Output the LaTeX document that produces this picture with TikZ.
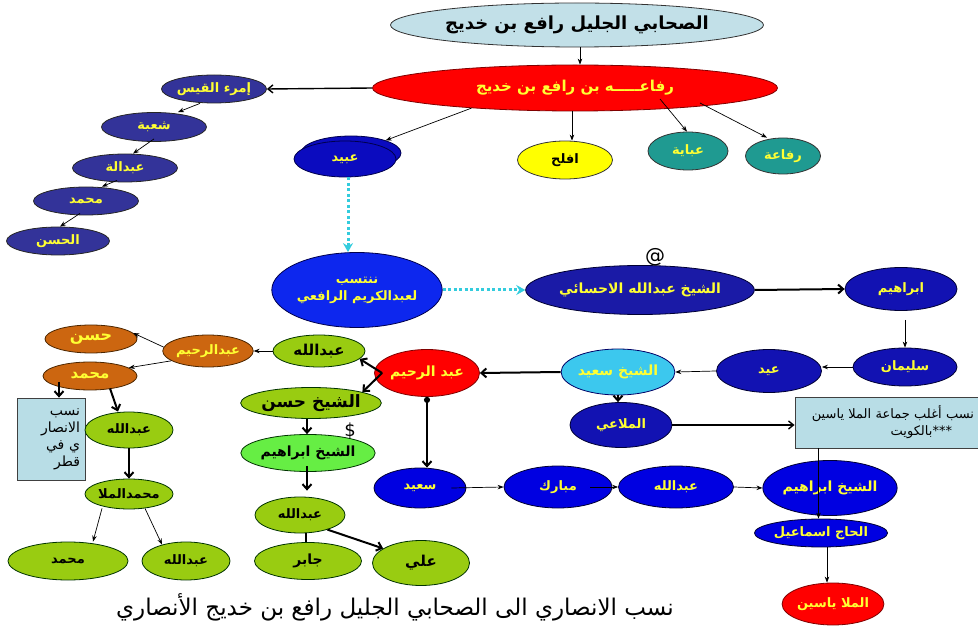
\documentclass[tikz,border=0pt]{standalone}
\usepackage{fontspec}
\usetikzlibrary{shapes.geometric,arrows.meta,calc}
\newfontfamily\arf[Script=Arabic]{DejaVu Sans}
\TeXXeTstate=1
\newcommand\AR[1]{\beginR #1\endR}
\definecolor{topc}{HTML}{C2E0E8}
\definecolor{redc}{HTML}{FF0000}
\definecolor{navyc}{HTML}{333399}
\definecolor{ubc}{HTML}{0B0BBF}
\definecolor{nanc}{HTML}{0D27EE}
\definecolor{ahc}{HTML}{1A1AA6}
\definecolor{dbc}{HTML}{1212B2}
\definecolor{bbc}{HTML}{0000E1}
\definecolor{tealc}{HTML}{1F9A91}
\definecolor{yelc}{HTML}{FFFF00}
\definecolor{txty}{HTML}{FFFF33}
\definecolor{cyanc}{HTML}{3CC8EE}
\definecolor{greenc}{HTML}{99CC11}
\definecolor{greenl}{HTML}{66EE44}
\definecolor{orc}{HTML}{CC6610}
\definecolor{boxc}{HTML}{B8DDE6}
\definecolor{dotc}{HTML}{33CCDD}
\tikzset{
  fs/.style={font=\arf\bfseries\fontsize{#1}{17}\selectfont},
  ov/.style n args={3}{ellipse, inner sep=0pt, line width=0.8pt, fill=#1, draw=#2, text=#3, fs=13},
  navyel/.style={ov={navyc}{black!85}{txty}},
  redel/.style={ov={redc}{red!50!black}{txty}},
  ubel/.style={ov={ubc}{blue!30!black}{txty}},
  nanel/.style={ov={nanc}{blue!30!black}{txty}},
  ahel/.style={ov={ahc}{blue!20!black}{txty}},
  dbel/.style={ov={dbc}{blue!20!black}{txty}},
  bbel/.style={ov={bbc}{blue!20!black}{txty}},
  tealel/.style={ov={tealc}{black!80}{txty}},
  yelel/.style={ov={yelc}{black!80}{black}},
  cyanel/.style={ov={cyanc}{blue!40!black}{txty}},
  grel/.style={ov={greenc}{green!20!black}{black}},
  glel/.style={ov={greenl}{green!20!black}{black}},
  orel/.style={ov={orc}{orange!30!black}{txty}},
  infobox/.style={rectangle, fill=boxc, draw=black!75, line width=0.8pt, inner sep=3pt, align=right, text=black, font=\arf\fontsize{13}{17}\selectfont},
  tarr/.style={-{Stealth[length=6pt,width=4.5pt]}, line width=0.7pt, black},
  karr/.style={-{Straight Barb[length=5pt,width=9pt]}, line width=2pt, black},
  marr/.style={-{Straight Barb[length=5pt,width=8pt]}, line width=1.4pt, black},
  dotarr/.style={-{Stealth[length=9pt,width=10pt,inset=3pt]}, line width=3pt, dotc, dash pattern=on 3pt off 2.5pt},
}
\begin{document}
\begin{tikzpicture}[x=1pt,y=-1pt]
\useasboundingbox (0,0) rectangle (978,628);
% top
\node[ov={topc}{black!80}{black}, fs=18, minimum width=290, minimum height=44] (top) at (577,25) {\AR{الصحابي الجليل رافع بن خديج}};
\node[redel, fs=15, minimum width=405, minimum height=46] (rf) at (575,88) {\AR{رفاعـــــه بن رافع بن خديج}};
% left navy chain
\node[navyel, minimum width=105, minimum height=28] (imru) at (214,89) {\AR{إمرء القيس}};
\node[navyel, minimum width=105, minimum height=29] (shuba) at (154,127) {\AR{شعبة}};
\node[navyel, minimum width=105, minimum height=28] (abdl) at (125,168) {\AR{عبدالة}};
\node[navyel, minimum width=105, minimum height=28] (muh1) at (86,201) {\AR{محمد}};
\node[navyel, minimum width=103, minimum height=28] (hasan1) at (58,241) {\AR{الحسن}};
% children of rf
\node[ubel, minimum width=100, minimum height=34] (ubaidb) at (351,153) {};
\node[ubel, minimum width=102, minimum height=36] (ubaid) at (345,159) {\AR{عبيد}};
\node[yelel, minimum width=95, minimum height=38] (aflah) at (565,160) {\AR{افلح}};
\node[tealel, minimum width=80, minimum height=38] (abaya) at (688,151) {\AR{عباية}};
\node[tealel, minimum width=75, minimum height=36] (rifaa) at (783,156) {\AR{رفاعة}};
% middle row
\node[nanel, align=center, minimum width=155, minimum height=75] (nant) at (357,290) {\AR{ننتسب}\\\AR{لعبدالكريم الرافعي}};
\node[ahel, fs=14, minimum width=170, minimum height=49] (ahsai) at (640,290) {\AR{الشيخ عبدالله الاحسائي}};
\node[font=\arf\fontsize{20}{20}\selectfont] (atsign) at (655,257) {@};
\node[dbel, minimum width=112, minimum height=43] (ibr) at (901,289) {\AR{ابراهيم}};
\node[dbel, minimum width=104, minimum height=38] (sul) at (905,367) {\AR{سليمان}};
\node[dbel, minimum width=105, minimum height=43] (eid) at (769,371) {\AR{عيد}};
\node[cyanel, fs=14, minimum width=108, minimum height=46] (ssaid) at (618,372) {\AR{الشيخ سعيد}};
\node[dbel, minimum width=102, minimum height=45] (mulai) at (621,425) {\AR{الملاعي}};
\node[infobox, minimum width=183, minimum height=51, text width=175] (kbox) at (886.5,422.5) {\AR{نسب أغلب جماعة الملا ياسين}\\\AR{بالكويت}***\hspace*{22pt}};
\node[redel, fs=14, minimum width=105, minimum height=47] (arahim) at (427,373) {\AR{عبد الرحيم}};
% green column
\node[grel, fs=15, minimum width=92, minimum height=32] (gabd) at (319,351) {\AR{عبدالله}};
\node[grel, fs=17, minimum width=112, minimum height=31] (shasan) at (311,403) {\AR{الشيخ حسن}};
\node[glel, fs=14, minimum width=107, minimum height=37] (shibr) at (308,453) {\AR{الشيخ ابراهيم}};
\node[font=\arf\fontsize{18}{18}\selectfont] (dollar) at (350,431) {\$};
\node[grel, minimum width=90, minimum height=36] (gabd2) at (300,515) {\AR{عبدالله}};
\node[grel, fs=14, minimum width=107, minimum height=37] (jabir) at (308,561) {\AR{جابر}};
\node[grel, fs=15, minimum width=97, minimum height=45] (ali) at (421,563) {\AR{علي}};
% orange
\node[orel, minimum width=90, minimum height=32] (orahim) at (208,351) {\AR{عبدالرحيم}};
\node[orel, fs=16, minimum width=92, minimum height=28] (ohasan) at (91,339) {\AR{حسن}};
\node[orel, fs=15, minimum width=94, minimum height=28] (omuh) at (90,376) {\AR{محمد}};
\node[infobox, font=\arf\fontsize{14}{17}\selectfont, minimum width=68, minimum height=82, text width=58] (qbox) at (51,439) {\AR{نسب}\\\AR{الانصار}\\\AR{ي في}\\\AR{قطر}};
\node[grel, minimum width=88, minimum height=36] (labd) at (129,430) {\AR{عبدالله}};
\node[grel, minimum width=88, minimum height=30] (mmulla) at (129,494) {\AR{محمدالملا}};
\node[grel, minimum width=120, minimum height=38] (bmuh) at (68,561) {\AR{محمد}};
\node[grel, minimum width=88, minimum height=38] (babd) at (186,561) {\AR{عبدالله}};
% bottom blue row
\node[bbel, minimum width=92, minimum height=40] (said) at (420,488) {\AR{سعيد}};
\node[bbel, minimum width=108, minimum height=42] (mubarak) at (558,487) {\AR{مبارك}};
\node[bbel, minimum width=115, minimum height=42] (babd2) at (676,487) {\AR{عبدالله}};
\node[bbel, fs=14, minimum width=110, minimum height=55] (sibr) at (830,488) {\AR{الشيخ ابراهيم}};
\node[bbel, minimum width=92, minimum height=28] (ismail) at (821,533) {\AR{الحاج اسماعيل}};
\node[redel, minimum width=95, minimum height=42] (yasin) at (833,604) {\AR{الملا ياسين}};
% title
\node[font=\arf\fontsize{23}{26}\selectfont] (title) at (395,607) {\AR{نسب الانصاري الى الصحابي الجليل  رافع بن خديج الأنصاري}};
% ---- connectors ----
\draw[tarr] ([xshift=3pt]top.south) -- ([xshift=3pt]top.south |- rf.north);
\draw[marr] (rf.west) -- (imru.east);
\draw[tarr] ([xshift=-14pt]imru.south) -- ([xshift=24pt]shuba.north);
\draw[tarr] ([yshift=3pt]shuba.south) -- ([xshift=8pt]abdl.north);
\draw[tarr] ([xshift=-8pt,yshift=2pt]abdl.south) -- ([xshift=16pt]muh1.north);
\draw[tarr] ([xshift=-6pt,yshift=2pt]muh1.south) -- ([xshift=2pt]hasan1.north);
\draw[tarr] (rf.191) -- (ubaidb.20);
\draw[tarr] ([xshift=-3pt]rf.south) -- ([xshift=-3pt]rf.south |- aflah.north);
\draw[tarr] ([xshift=85pt,yshift=-11pt]rf.center) -- ([xshift=-1pt]abaya.north);
\draw[tarr] ([xshift=125pt,yshift=-15pt]rf.center) -- ([xshift=-16pt]rifaa.north);
\draw[dotarr] ([xshift=3pt]ubaid.south) -- ([xshift=3pt]ubaid.south |- nant.north);
\draw[dotarr] (nant.east) -- (ahsai.west);
\draw[karr] (ahsai.east) -- (ibr.west);
\draw[tarr] ([xshift=4pt,yshift=-9pt]ibr.south) -- ([xshift=4pt]ibr.south |- sul.north);
\draw[tarr] (sul.west) -- (sul.west -| eid.east);
\draw[tarr] (eid.west) -- (ssaid.east);
\draw[karr] (ssaid.west) -- (arahim.east);
\draw[karr] (ssaid.south) -- (ssaid.south |- mulai.north);
\draw[marr] (mulai.east) -- (mulai.east -| kbox.west);
\draw[tarr] ([xshift=-68pt]kbox.south) -- ([xshift=-68pt]kbox.south |- ismail.north);
\draw[tarr] ([xshift=6pt]ismail.south) -- ([xshift=6pt]ismail.south |- yasin.north);
\coordinate (fork) at ([xshift=8pt]arahim.west);
\draw[karr] (fork) -- (gabd.-11);
\draw[karr] (fork) -- (shasan.12);
\draw[{Circle[length=6pt]}-{Straight Barb[length=5pt,width=9pt]}, line width=2pt] (arahim.south) -- (arahim.south |- said.north);
\draw[tarr] ([xshift=-15pt]said.east) -- (mubarak.west);
\draw[tarr] ([xshift=-22pt]mubarak.east) -- (babd2.west);
\draw[tarr] (babd2.east) -- (sibr.west);
\draw[tarr] (gabd.west) -- (orahim.east);
\draw[tarr] (orahim.175) -- (ohasan.8);
\draw[tarr] (orahim.195) -- (omuh.12);
\draw[karr] ([xshift=-31pt,yshift=-6pt]omuh.center) -- ([xshift=-31pt]omuh.center |- qbox.north);
\draw[karr] ([xshift=20pt,yshift=2pt]omuh.south) -- ([xshift=-11pt]labd.north);
\draw[karr] (labd.south) -- (labd.south |- mmulla.north);
\draw[tarr] ([xshift=-27pt,yshift=1pt]mmulla.south) -- ([xshift=25pt]bmuh.north);
\draw[tarr] ([xshift=16pt,yshift=1pt]mmulla.south) -- ([xshift=-24pt,yshift=-3pt]babd.north);
\draw[karr] ([xshift=-4pt]shasan.south) -- ([xshift=-4pt]shasan.south |- shibr.north);
\draw[karr] ([xshift=-1pt,yshift=6pt]shibr.south) -- ([xshift=-1pt,yshift=6pt]shibr.south |- gabd2.north);
\draw[line width=2pt] ([xshift=6pt]gabd2.south) -- ([xshift=6pt]gabd2.south |- jabir.north);
\draw[karr] (gabd2.-28) -- (ali.159);
\end{tikzpicture}
\end{document}
